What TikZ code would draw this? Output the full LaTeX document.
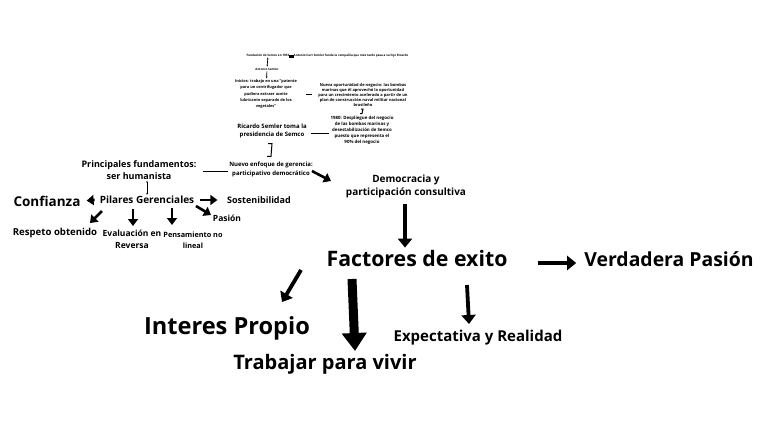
\documentclass[tikz,border=0pt]{standalone}
\usepackage{fontspec}
\setmainfont{Open Sans}
\usetikzlibrary{positioning,arrows.meta,calc}

\tikzset{
  txt/.style={text=black, align=center, inner sep=1pt},
  fat/.style={-{Triangle[length=7pt,width=10pt]}, line width=2.6pt},
  bold arrow/.style={-{Triangle[length=9pt,width=14pt]}, line width=3.8pt},
  huge arrow/.style={-{Triangle[length=18pt,width=24pt]}, line width=9pt},
  thin/.style={line width=0.7pt},
}
% tamaño de letra y espacio entre líneas
\newcommand{\fs}[2]{\fontsize{#1}{#2}\selectfont\bfseries}

\begin{document}
\begin{tikzpicture}[x=1pt,y=-1pt]
        \useasboundingbox (0,0) rectangle (768,431);
        % historia
        \node[txt, font=\fs{3}{4}] (fundacion) at (268,55) {Fundación de Semco en 1953};
        \node[fill=black, minimum width=5pt, minimum height=3pt, inner sep=0pt] (marca) at (291,56) {};
        \node[txt, font=\fs{3}{4}] (padre) at (351,56) {Antonio Curt Semler funda la compañía que más tarde pasa a su hijo Ricardo};
        \node[txt, font=\fs{3}{4}] (antonio) at (267,69) {Antonio Semler};
        \draw[thin, <->, >={Stealth[length=2pt]}] (fundacion) -- (antonio);
        \node[txt, font=\fs{3.9}{6.2}] (inicios) at (266,94) {Inicios: trabajo en una "patente\\para un centrifugador que\\pudiera extraer aceite\\lubricante separado de los\\vegetales"};
        \draw[thin, ->, >={Stealth[length=2pt]}] (antonio) -- (inicios);
        \node[txt, font=\fs{4}{5.2}] (oportunidad) at (363,95) {Nueva oportunidad de negocio: las bombas\\marinas que él aprovechó la oportunidad\\para un crecimiento acelerado a partir de un\\plan de construcción naval militar nacional\\brasileño};
        \draw[line width=1pt, shorten <=8pt, shorten >=5pt] (inicios.east |- 0,94) -- (oportunidad.west |- 0,94);
        \node[txt, font=\fs{4.4}{6}] (despliegue) at (362,130) {1980: Despliegue del negocio\\de las bombas marinas y\\desestabilización de Semco\\puesto que representa el\\90\% del negocio};
        \draw[line width=1pt] ($(oportunidad.south)+(-2,1)$) -- ++(2,0) -- ($(despliegue.north)+(0,-1)$) -- ++(-2,0);
        \node[txt, font=\fs{6}{8.8}] (ricardo) at (272,131) {Ricardo Semler toma la\\presidencia de Semco};
        \draw[line width=0.8pt, shorten <=3pt] (ricardo.east |- 0,133) -- (despliegue.west |- 0,133);
        \node[txt, font=\fs{6}{9}] (enfoque) at (271,169) {Nuevo enfoque de gerencia:\\participativo democrático};
        \draw[line width=1pt] ($(ricardo.south)+(-4,4)$) -- ++(4,0) -- ($(enfoque.north)+(0,-4)$) -- ++(-4,0);
        % fundamentos
        \node[txt, font=\fs{9}{12}] (fundamentos) at (139,170) {Principales fundamentos:\\ser humanista};
        \draw[line width=0.8pt] (fundamentos.east |- 0,171) ++(5,0) -- (enfoque.west |- 0,171);
        \node[txt, font=\fs{10}{12}] (pilares) at (147,200) {Pilares Gerenciales};
        \draw[<->, >={Stealth[length=2pt]}, line width=0.4pt] (pilares.north |- fundamentos.south) -- (pilares.north);
        \node[txt, font=\fs{13.5}{16}] (confianza) at (47,201) {Confianza};
        \node[txt, font=\fs{9}{11}] (sostenibilidad) at (259,200) {Sostenibilidad};
        \node[txt, font=\fs{8.5}{10}] (pasion) at (227,218) {Pasión};
        \node[txt, font=\fs{9.6}{12}] (respeto) at (55,233) {Respeto obtenido};
        \node[txt, font=\fs{8.5}{12}] (evaluacion) at (132,239) {Evaluación en\\Reversa};
        \node[txt, font=\fs{7.3}{11}] (pensamiento) at (193,240) {Pensamiento no\\lineal};
        \draw[fat, shorten >=5pt] (pilares.west) ++(-4,0) -- (confianza.east);
        \draw[fat] (pilares.east) ++(5,0) -- ++(17,0);
        \draw[fat] (196,206) -- (211,215);
        \draw[fat] (102,211) -- (90,223);
        \draw[fat] (133,209) -- (133,226);
        \draw[fat] (172,208) -- (172,225);
        % factores
        \node[txt, font=\fs{10}{13}] (democracia) at (406,186) {Democracia y\\participación consultiva};
        \draw[fat] (enfoque.east) ++(-2,2) -- (331,181);
        \node[txt, font=\fs{21.3}{24}] (factores) at (417,259) {Factores de exito};
        \draw[bold arrow] (democracia.south) ++(-1,5) -- ($(factores.north)+(-12,-2)$);
        \node[txt, font=\fs{19.4}{22}] (verdadera) at (669,259) {Verdadera Pasión};
        \draw[bold arrow] (factores.east) ++(29,4) -- ($(verdadera.west |- 0,263)+(-7,0)$);
        \node[txt, font=\fs{23.6}{26}] (interes) at (227,328) {Interes Propio};
        \draw[bold arrow] (301,270) -- (282,302);
        \node[txt, font=\fs{20}{23}] (trabajar) at (325,364) {Trabajar para vivir};
        \draw[huge arrow] (352,279) -- (355,351);
        \node[txt, font=\fs{15}{18}] (expectativa) at (478,338) {Expectativa y Realidad};
        \draw[bold arrow] (467,285) -- (469,324);
      \end{tikzpicture}
\end{document}
